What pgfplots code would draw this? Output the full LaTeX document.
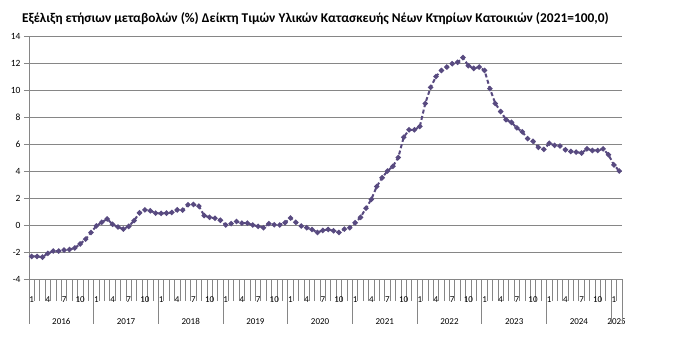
\documentclass[border=0pt]{standalone}
\usepackage{fontspec}
\setmainfont{Carlito}
\usepackage{pgfplots}
\pgfplotsset{compat=1.18}
\definecolor{lineC}{RGB}{88,74,128}
\definecolor{gridC}{RGB}{134,134,134}
\begin{document}
\begin{tikzpicture}
\path[use as bounding box] (0,0) rectangle (676bp,-357bp);
\node[anchor=base west, font=\fontsize{13.4bp}{16bp}\selectfont\bfseries, inner sep=0] at (22bp,-22bp) {Εξέλιξη ετήσιων μεταβολών (\%) Δείκτη Τιμών Υλικών Κατασκευής Νέων Κτηρίων Κατοικιών (2021=100,0)};
\begin{axis}[
  at={(29bp,-279bp)}, anchor=south west,
  scale only axis, width=593bp, height=243bp,
  xmin=0, xmax=110, ymin=-4, ymax=14,
  axis lines*=left,
  axis line style={gridC, line width=0.8bp},
  ytick={-4,-2,...,14},
  yticklabels={-4,-2,0,2,4,6,8,10,12,14},
  ymajorgrids, grid style={gridC, line width=0.8bp},
  tick align=outside,
  major tick length=5bp,
  minor tick length=22bp,
  tick style={gridC, line width=0.8bp},
  xtick style={gridC, line width=0.8bp, /pgfplots/major tick length=0pt},
  xtick={0.5,3.5,...,108.5},
  xticklabels={1,4,7,10,1,4,7,10,1,4,7,10,1,4,7,10,1,4,7,10,1,4,7,10,1,4,7,10,1,4,7,10,1,4,7,10,1},
  minor xtick={1,...,109},
  extra x ticks={6,18,30,42,54,66,78,90,102,109},
  extra x tick labels={2016,2017,2018,2019,2020,2021,2022,2023,2024,2025},
  extra x tick style={xtick style={/pgfplots/major tick length=0pt}, tick label style={yshift=-22bp}},
  tick label style={font=\fontsize{9.5bp}{11bp}\selectfont},
  xticklabel style={font=\fontsize{9bp}{11bp}\selectfont, yshift=-9bp},
  clip=false,
]
\addplot[lineC, line width=2bp, dash pattern=on 4bp off 2.5bp, mark=*, mark size=1.5bp, mark options={solid, fill=lineC, draw=lineC}] coordinates {
(0.5,-2.33) (1.5,-2.33) (2.5,-2.38) (3.5,-2.10) (4.5,-1.93) (5.5,-1.93) (6.5,-1.86) (7.5,-1.82) (8.5,-1.70) (9.5,-1.40) (10.5,-1.05) (11.5,-0.55)
(12.5,-0.07) (13.5,0.20) (14.5,0.45) (15.5,0.05) (16.5,-0.15) (17.5,-0.30) (18.5,-0.10) (19.5,0.33) (20.5,0.90) (21.5,1.12) (22.5,1.05) (23.5,0.88)
(24.5,0.86) (25.5,0.88) (26.5,0.93) (27.5,1.12) (28.5,1.10) (29.5,1.50) (30.5,1.52) (31.5,1.40) (32.5,0.70) (33.5,0.57) (34.5,0.50) (35.5,0.35)
(36.5,0.00) (37.5,0.10) (38.5,0.26) (39.5,0.14) (40.5,0.14) (41.5,0.00) (42.5,-0.10) (43.5,-0.20) (44.5,0.10) (45.5,0.02) (46.5,0.00) (47.5,0.17)
(48.5,0.52) (49.5,0.20) (50.5,-0.07) (51.5,-0.20) (52.5,-0.33) (53.5,-0.55) (54.5,-0.40) (55.5,-0.33) (56.5,-0.43) (57.5,-0.55) (58.5,-0.30) (59.5,-0.20)
(60.5,0.17) (61.5,0.57) (62.5,1.24) (63.5,1.90) (64.5,2.85) (65.5,3.50) (66.5,4.00) (67.5,4.35) (68.5,5.00) (69.5,6.50) (70.5,7.05) (71.5,7.05)
(72.5,7.30) (73.5,9.00) (74.5,10.20) (75.5,11.00) (76.5,11.45) (77.5,11.70) (78.5,11.95) (79.5,12.05) (80.5,12.40) (81.5,11.80) (82.5,11.60) (83.5,11.70)
(84.5,11.45) (85.5,10.10) (86.5,9.00) (87.5,8.40) (88.5,7.80) (89.5,7.60) (90.5,7.20) (91.5,6.90) (92.5,6.40) (93.5,6.20) (94.5,5.75) (95.5,5.60)
(96.5,6.05) (97.5,5.90) (98.5,5.85) (99.5,5.57) (100.5,5.45) (101.5,5.40) (102.5,5.33) (103.5,5.64) (104.5,5.52) (105.5,5.52) (106.5,5.64) (107.5,5.20)
(108.5,4.45) (109.5,4.00)
};
\foreach \yr in {0,12,24,36,48,60,72,84,96,108,110}{
  \edef\tmp{\noexpand\draw[gridC, line width=0.8bp] (axis cs:\yr,-4) -- (axis cs:\yr,-7.3);}\tmp
}
\end{axis}
\end{tikzpicture}
\end{document}
